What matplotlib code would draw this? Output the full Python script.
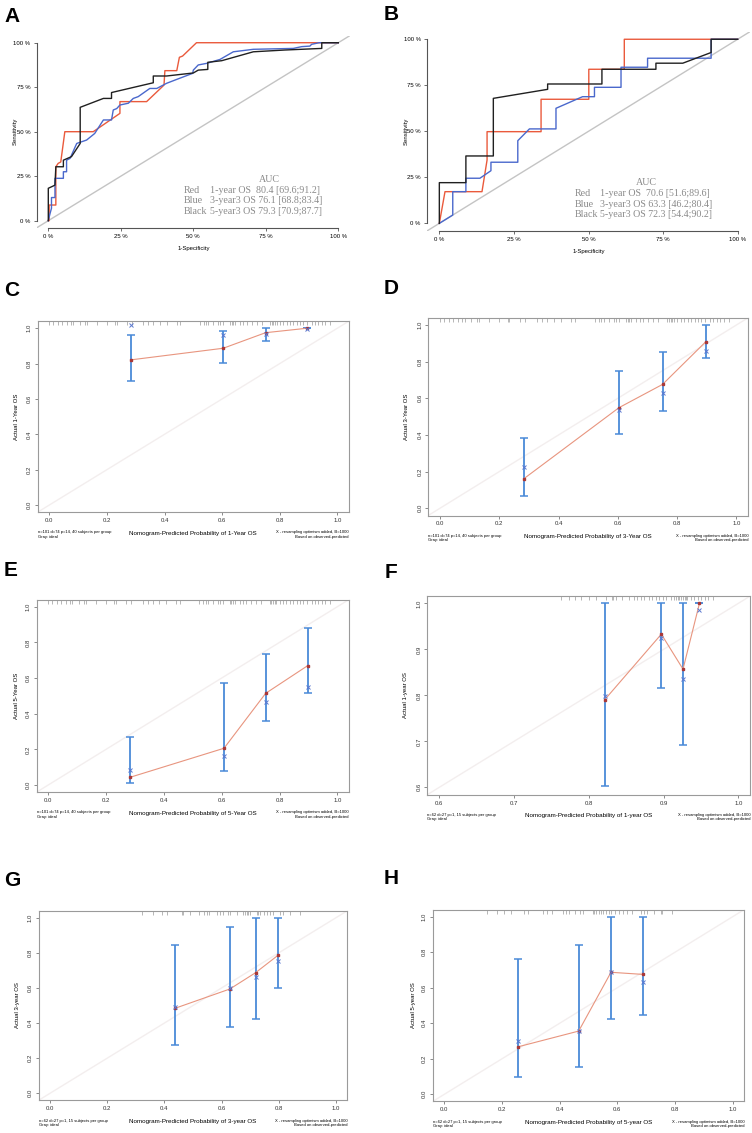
import matplotlib
matplotlib.use("Agg")
import matplotlib.pyplot as plt

plt.rcParams["font.family"] = ["Liberation Sans", "DejaVu Sans"]

W, H = 752, 1133

# ---- ROC data (percent, 1-specificity vs sensitivity) ----
A_red_x = [0, 0.3, 0.3, 2.6, 2.6, 3.4, 4.3, 5.7, 15.5, 24.7, 24.7, 33.9, 39.9, 40.2, 44.3, 45.2, 46.3, 51.1, 100]
A_red_y = [0, 0, 8.8, 8.8, 30.3, 32.2, 33.0, 50.0, 50.0, 60.3, 66.9, 66.9, 76.2, 84.3, 84.3, 91.8, 92.5, 100, 100]
A_blue_x = [0, 0.6, 1.1, 1.1, 2.3, 2.3, 5.2, 5.2, 6.3, 6.3, 7.5, 9.8, 13.2, 16.0, 19.0, 21.8, 22.4, 23.6, 24.7,
            27.6, 29.3, 31.0, 35.0, 37.4, 40.8, 44.3, 49.8, 50.0, 51.7, 54.6, 59.2, 63.8, 70.7, 84.5, 87.4,
            90.2, 90.8, 93.4, 100]
A_blue_y = [0, 4.0, 7.0, 13.0, 13.0, 23.8, 23.8, 27.5, 27.5, 34.0, 35.0, 43.4, 45.3, 49.0, 56.6, 56.6, 62.2,
            63.0, 65.0, 66.0, 68.7, 69.7, 74.3, 74.3, 77.2, 79.4, 82.8, 84.6, 87.5, 88.4, 90.6, 94.9, 96.3,
            96.8, 97.8, 98.1, 99.1, 100, 100]
A_black_x = [0, 0, 1.7, 2.3, 2.6, 5.2, 5.2, 8.0, 11.0, 11.0, 19.0, 21.8, 21.8, 36.2, 36.2, 40.8, 50.0, 51.7,
             55.0, 55.0, 59.8, 70.7, 81.6, 94.3, 94.3, 100]
A_black_y = [0, 18.2, 19.5, 20.0, 30.3, 30.3, 34.0, 36.0, 43.4, 63.7, 68.7, 68.7, 72.0, 77.5, 81.3, 81.3,
             83.0, 84.6, 85.0, 89.0, 89.9, 94.9, 95.9, 96.8, 100, 100]
A_auc = ["1-year OS  80.4 [69.6;91.2]", "3-year3 OS 76.1 [68.8;83.4]", "5-year3 OS 79.3 [70.9;87.7]"]

B_red_x = [0, 1.9, 14.3, 16.0, 16.0, 34.1, 34.1, 50.1, 50.1, 62.0, 62.0, 91.1, 100]
B_red_y = [0, 17.2, 17.2, 34.4, 49.8, 49.8, 67.4, 67.4, 83.7, 83.7, 100, 100, 100]
B_blue_x = [0, 4.5, 4.5, 8.9, 8.9, 13.6, 17.3, 17.3, 26.3, 26.3, 30.2, 39.1, 39.1, 48.0, 52.0, 52.0, 60.9,
            60.9, 69.8, 69.8, 91.1, 91.1, 100]
B_blue_y = [0, 4.5, 17.2, 17.2, 24.5, 24.5, 28.6, 33.2, 33.2, 44.9, 51.3, 51.3, 62.5, 68.8, 68.8, 73.9, 73.9,
            84.8, 84.8, 89.7, 89.7, 100, 100]
B_black_x = [0, 0, 8.9, 8.9, 18.1, 18.1, 36.3, 36.3, 54.5, 54.5, 72.6, 72.6, 81.6, 91.1, 91.1, 100]
B_black_y = [0, 22.1, 22.1, 36.6, 36.6, 67.9, 72.8, 75.7, 75.7, 83.7, 83.7, 87.0, 87.0, 92.8, 100, 100]
B_auc = ["1-year OS  70.6 [51.6;89.6]", "3-year3 OS 63.3 [46.2;80.4]", "5-year3 OS 72.3 [54.4;90.2]"]

auc_names = ["Red", "Blue", "Black"]
roc_ticks = [0, 25, 50, 75, 100]
roc_ticklabels = ["0 %", "25 %", "50 %", "75 %", "100 %"]

# ---- calibration data ----
C_pred = [0.282, 0.604, 0.751, 0.894]
C_obs = [0.821, 0.887, 0.975, 1.0]
C_corr = [1.018, 0.962, 0.970, 0.996]
C_lo = [0.702, 0.802, 0.928, 1.0]
C_hi = [0.962, 0.985, 1.0, 1.0]

D_pred = [0.282, 0.604, 0.751, 0.897]
D_obs = [0.160, 0.549, 0.676, 0.909]
D_corr = [0.227, 0.536, 0.627, 0.858]
D_lo = [0.067, 0.404, 0.533, 0.818]
D_hi = [0.385, 0.749, 0.855, 1.0]

E_pred = [0.283, 0.608, 0.752, 0.897]
E_obs = [0.043, 0.206, 0.514, 0.669]
E_corr = [0.084, 0.163, 0.464, 0.548]
E_lo = [0.009, 0.079, 0.361, 0.514]
E_hi = [0.271, 0.574, 0.735, 0.879]

F_pred = [0.821, 0.897, 0.926, 0.948]
F_obs = [0.790, 0.933, 0.857, 1.0]
F_corr = [0.799, 0.924, 0.835, 0.986]
F_lo = [0.604, 0.815, 0.692, 1.0]
F_hi = [1.0, 1.0, 1.0, 1.0]

G_pred = [0.437, 0.629, 0.719, 0.798]
G_obs = [0.484, 0.594, 0.687, 0.787]
G_corr = [0.490, 0.598, 0.664, 0.755]
G_lo = [0.275, 0.376, 0.421, 0.598]
G_hi = [0.844, 0.949, 1.0, 1.0]

H_pred = [0.257, 0.466, 0.578, 0.690]
H_obs = [0.268, 0.356, 0.687, 0.675]
H_corr = [0.300, 0.356, 0.687, 0.630]
H_lo = [0.096, 0.152, 0.422, 0.447]
H_hi = [0.760, 0.841, 1.0, 1.0]

# rug of predicted probabilities (top of calibration plots)
CDE_rug = [0.0, 0.014, 0.031, 0.043, 0.060, 0.075, 0.083, 0.106, 0.124, 0.132, 0.164, 0.199, 0.228, 0.234,
           0.269, 0.286, 0.326, 0.344, 0.361, 0.384, 0.407, 0.442, 0.454, 0.523, 0.537, 0.544, 0.552, 0.569,
           0.587, 0.593, 0.604, 0.627, 0.633, 0.639, 0.645, 0.662, 0.674, 0.685, 0.703, 0.720, 0.737, 0.766,
           0.772, 0.778, 0.784, 0.789, 0.801, 0.812, 0.824, 0.836, 0.847, 0.859, 0.870, 0.882, 0.894, 0.911,
           0.922, 0.934, 0.946, 0.957, 0.975]
F_rug = [0.763, 0.774, 0.782, 0.790, 0.800, 0.810, 0.823, 0.831, 0.833, 0.836, 0.845, 0.854, 0.861, 0.865,
         0.870, 0.874, 0.881, 0.885, 0.890, 0.894, 0.899, 0.903, 0.910, 0.914, 0.917, 0.919, 0.921, 0.923,
         0.926, 0.928, 0.930, 0.932, 0.937, 0.941, 0.946, 0.950, 0.955, 0.959, 0.966]
G_rug = [0.321, 0.361, 0.393, 0.408, 0.460, 0.466, 0.490, 0.522, 0.538, 0.548, 0.557, 0.583, 0.594, 0.606,
         0.624, 0.629, 0.655, 0.676, 0.682, 0.688, 0.693, 0.699, 0.723, 0.728, 0.734, 0.748, 0.758, 0.769,
         0.781, 0.804, 0.816, 0.839, 0.874]
H_rug = [0.147, 0.182, 0.208, 0.231, 0.277, 0.289, 0.341, 0.355, 0.373, 0.413, 0.422, 0.434, 0.454, 0.471,
         0.480, 0.514, 0.520, 0.526, 0.535, 0.543, 0.549, 0.561, 0.572, 0.578, 0.593, 0.607, 0.618, 0.632,
         0.651, 0.682, 0.694, 0.702, 0.728, 0.751, 0.755, 0.790]

unit_ticks = [0.0, 0.2, 0.4, 0.6, 0.8, 1.0]
f_ticks = [0.6, 0.7, 0.8, 0.9, 1.0]

fig = plt.figure(figsize=(W / 100, H / 100), dpi=100)


def eixo(l, t, r, b):
    return fig.add_axes([l / W, 1 - b / H, (r - l) / W, (b - t) / H])


def ftxt(x, y, s, **kw):
    fig.text(x / W, 1 - y / H, s, **kw)


def roc(box, curvas, auc, pos, ylab_x, xlab_y):
    ax = eixo(*box)
    ax.set_xlim(-4, 104); ax.set_ylim(-4, 104)
    ax.plot([-4, 104], [-4, 104], color="#c4c4c4", lw=1.0)
    for xs, ys, cor in curvas:
        ax.plot(xs, ys, color=cor, lw=1.0)
    for s in ["top", "right"]:
        ax.spines[s].set_visible(False)
    for s in ["left", "bottom"]:
        ax.spines[s].set_bounds(0, 100)
        ax.spines[s].set_color("#555")
        ax.spines[s].set_linewidth(0.8)
    ax.set_xticks(roc_ticks, roc_ticklabels)
    ax.set_yticks(roc_ticks, roc_ticklabels)
    ax.tick_params(length=2.2, width=0.6, color="#555", labelsize=4.3, pad=2.5)
    ax.set_facecolor("none")
    xauc, xa, xb, ay, dy = pos
    fonte = dict(fontsize=7.2, family="Liberation Serif", color="#8a8a8a", va="center")
    ax.text(xauc, ay + dy, "AUC", ha="center", **fonte)
    for i, (nome, txt) in enumerate(zip(auc_names, auc)):
        yy = ay - i * dy
        ax.text(xa, yy, nome, ha="left", **fonte)
        ax.text(xb, yy, txt, ha="left", **fonte)
    cx = (box[0] + box[2]) / 2
    ftxt(ylab_x, (box[1] + box[3]) / 2, "Sensitivity", rotation=90, ha="center",
         va="center", fontsize=4.3)
    ftxt(cx, xlab_y, "1-Specificity", ha="center", va="center", fontsize=4.3)


def calib(box, lim, ticks, pred, obs, corr, lo, hi, rug, ylab, xlab, nota, ylab_x):
    ax = eixo(*box)
    a, b = lim
    pad = (b - a) * 0.04
    ax.set_xlim(a - pad, b + pad); ax.set_ylim(a - pad, b + pad)
    ax.plot([a - pad, b + pad], [a - pad, b + pad], color="#f3eeee", lw=1.0)
    ax.vlines(rug, 0.978, 1.0, transform=ax.get_xaxis_transform(), color="#9a9a9a", lw=0.5)
    yerr = [[o - l for o, l in zip(obs, lo)], [h - o for o, h in zip(obs, hi)]]
    ax.errorbar(pred, obs, yerr=yerr, fmt="none", ecolor="#4a8ad8", elinewidth=1.3,
                capsize=2.6, capthick=1.1)
    ax.plot(pred, obs, color="#e8957f", lw=0.8)
    ax.plot(pred, obs, ls="none", marker="s", ms=2.0, color="#a83838")
    ax.plot(pred, corr, ls="none", marker="x", ms=2.6, mew=0.7, color="#5a78d0")
    ax.set_xticks(ticks, [f"{t:.1f}" for t in ticks])
    ax.set_yticks(ticks, [f"{t:.1f}" for t in ticks])
    ax.tick_params(length=2.2, width=0.6, color="#777", labelsize=4.3, pad=2.0,
                   labelcolor="#333")
    for lab in ax.get_yticklabels():
        lab.set_rotation(90)
        lab.set_va("center")
    for s in ax.spines.values():
        s.set_color("#9a9a9a")
        s.set_linewidth(0.8)
    l, t, r, bt = box
    ftxt(ylab_x, (t + bt) / 2, ylab, rotation=90, ha="center", va="center", fontsize=4.3)
    ftxt((l + r) / 2, bt + 21, xlab, ha="center", va="center", fontsize=4.5)
    ftxt(l, bt + 22.5, nota + "\nGray: ideal", ha="left", va="center", fontsize=3.0,
         linespacing=1.1)
    ftxt(r, bt + 22.5, "X - resampling optimism added, B=1000\nBased on observed-predicted",
         ha="right", va="center", fontsize=3.0, linespacing=1.1, multialignment="right")


# ---- ROC panels ----
roc((36.7, 35.6, 349.9, 227.8),
    [(A_red_x, A_red_y, "#ea5a3c"), (A_blue_x, A_blue_y, "#4a68cc"), (A_black_x, A_black_y, "#202020")],
    A_auc, (76.4, 46.8, 55.6, 17.2, 6.0), 15, 249)
roc((427.4, 31.9, 749.6, 230.7),
    [(B_red_x, B_red_y, "#ea5a3c"), (B_blue_x, B_blue_y, "#4a68cc"), (B_black_x, B_black_y, "#202020")],
    B_auc, (69.3, 45.5, 54.0, 16.3, 5.8), 406, 252)

# ---- calibration panels ----
n1 = "n=101 d=74 p=14, 40 subjects per group"
n2 = "n=62 d=27 p=1, 15 subjects per group"
calib((37.8, 321.2, 348.8, 512.1), (0, 1), unit_ticks, C_pred, C_obs, C_corr, C_lo, C_hi, CDE_rug,
      "Actual 1-Year OS", "Nomogram-Predicted Probability of 1-Year OS", n1, 17)
calib((428.1, 317.7, 748.2, 515.6), (0, 1), unit_ticks, D_pred, D_obs, D_corr, D_lo, D_hi, CDE_rug,
      "Actual 3-Year OS", "Nomogram-Predicted Probability of 3-Year OS", n1, 406)
calib((36.7, 599.6, 348.9, 792.1), (0, 1), unit_ticks, E_pred, E_obs, E_corr, E_lo, E_hi, CDE_rug,
      "Actual 5-Year OS", "Nomogram-Predicted Probability of 5-Year OS", n1, 16)
calib((427.3, 596.0, 750.3, 794.7), (0.6, 1.0), f_ticks, F_pred, F_obs, F_corr, F_lo, F_hi, F_rug,
      "Actual 1-year OS", "Nomogram-Predicted Probability of 1-year OS", n2, 406)
calib((38.6, 910.7, 347.4, 1100.3), (0, 1), unit_ticks, G_pred, G_obs, G_corr, G_lo, G_hi, G_rug,
      "Actual 3-year OS", "Nomogram-Predicted Probability of 3-year OS", n2, 17)
calib((432.8, 909.6, 744.2, 1101.4), (0, 1), unit_ticks, H_pred, H_obs, H_corr, H_lo, H_hi, H_rug,
      "Actual 5-year OS", "Nomogram-Predicted Probability of 5-year OS", n2, 413)

# ---- panel letters ----
letras = [("A", 4, 16.5), ("B", 384, 14.5), ("C", 4, 290), ("D", 384, 288),
          ("E", 4, 571), ("F", 385, 572), ("G", 4, 880), ("H", 384, 879)]
for s, x, y in letras:
    ftxt(x, y, s, ha="left", va="center", fontsize=15, weight="bold")

fig.savefig("out.png", dpi=100)
plt.close(fig)
